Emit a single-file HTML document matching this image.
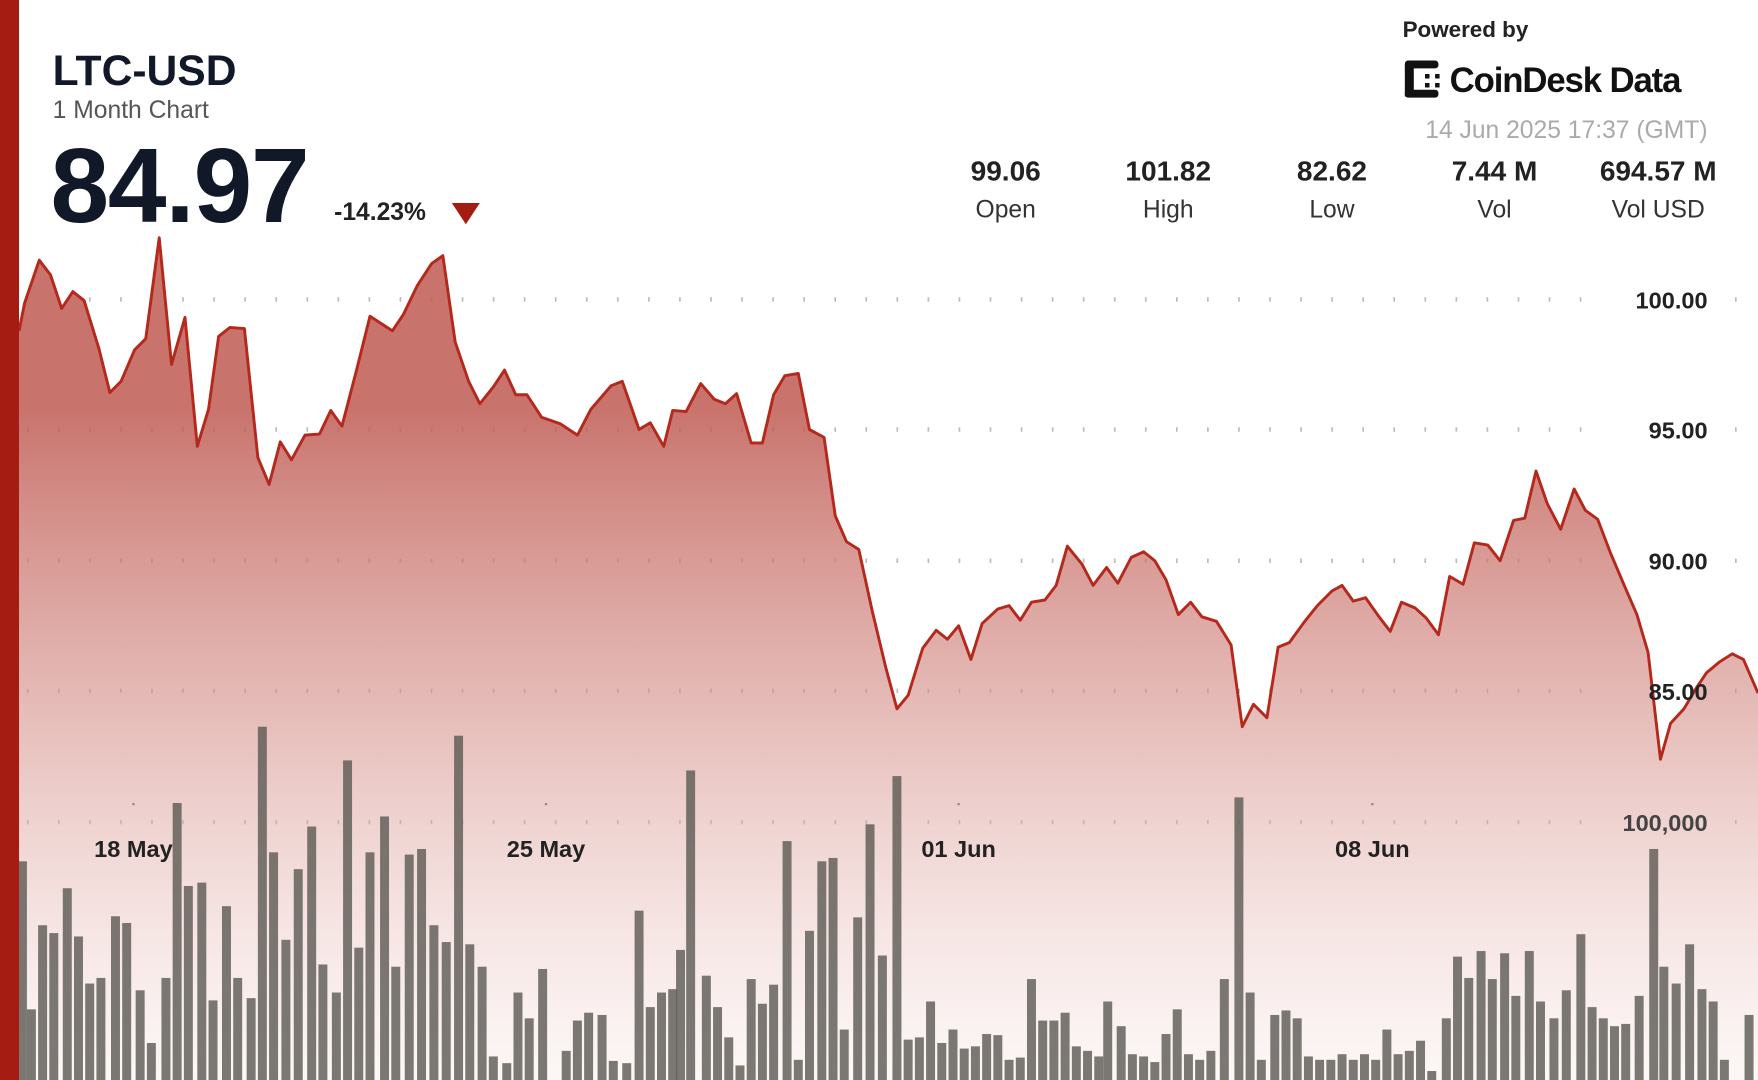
<!DOCTYPE html>
<html><head><meta charset="utf-8">
<style>
html,body{margin:0;padding:0;background:#fff;}
svg{display:block;}
text{font-family:"Liberation Sans",sans-serif;}
</style></head>
<body>
<svg id="s" width="1758" height="1080" viewBox="0 0 1568 963" preserveAspectRatio="none" xmlns="http://www.w3.org/2000/svg">
<defs>
<linearGradient id="g" x1="0" y1="0" x2="0" y2="1">
<stop offset="0.2" stop-color="#bf5a52" stop-opacity="0.85"/>
<stop offset="0.6" stop-color="#d99a94" stop-opacity="0.6"/>
<stop offset="1" stop-color="#f6e4e2" stop-opacity="0.3"/>
</linearGradient>
</defs>
<rect x="0" y="0" width="1568" height="963" fill="#fff"/>
<g id="grid"></g>
<path id="area" fill="url(#g)"/>
<g id="bars"></g>
<polyline id="line" fill="none" stroke="#b5281c" stroke-width="2.6" stroke-linejoin="round"/>
<rect x="0" y="0" width="17" height="963" fill="#a51c12"/>
<text x="47" y="76" font-size="38" font-weight="bold" fill="#111827">LTC-USD</text>
<text x="47" y="105" font-size="22" fill="#555">1 Month Chart</text>
<text x="45" y="198" font-size="94" font-weight="bold" fill="#111827" letter-spacing="-1">84.97</text>
<text x="298" y="196" font-size="22" font-weight="bold" fill="#222">-14.23%</text>
<polygon points="403,181 428,181 415.5,200" fill="#a51c12"/>
<g font-size="25" font-weight="bold" fill="#222" text-anchor="middle">
<text x="897" y="161">99.06</text><text x="1042" y="161">101.82</text><text x="1188" y="161">82.62</text><text x="1333" y="161">7.44 M</text><text x="1479" y="161">694.57 M</text>
</g>
<g font-size="22" fill="#333" text-anchor="middle">
<text x="897" y="194">Open</text><text x="1042" y="194">High</text><text x="1188" y="194">Low</text><text x="1333" y="194">Vol</text><text x="1479" y="194">Vol USD</text>
</g>
<text x="1251" y="33" font-size="20" font-weight="bold" fill="#222">Powered by</text>
<g fill="#111">
<rect x="1253" y="58" width="8" height="28"/><rect x="1253" y="54" width="30" height="7" rx="3"/><rect x="1253" y="80" width="30" height="7" rx="3"/>
<rect x="1271" y="66" width="4" height="4"/><rect x="1271" y="74" width="4" height="4"/><rect x="1280" y="66" width="4" height="4"/><rect x="1280" y="74" width="4" height="4"/>
</g>
<text x="1293" y="82" font-size="31" font-weight="bold" fill="#111" letter-spacing="-1">CoinDesk Data</text>
<text x="1523" y="123" font-size="22" fill="#aaa" text-anchor="end">14 Jun 2025 17:37 (GMT)</text>
<g font-size="21" font-weight="bold" fill="#222" text-anchor="end">
<text x="1523" y="275">100.00</text><text x="1523" y="391">95.00</text><text x="1523" y="508">90.00</text><text x="1523" y="624">85.00</text><text x="1523" y="741" fill="#444">100,000</text>
</g>
<g font-size="21" font-weight="bold" fill="#222" text-anchor="middle">
<text x="119" y="764">18 May</text><text x="487" y="764">25 May</text><text x="855" y="764">01 Jun</text><text x="1224" y="764">08 Jun</text>
</g>
</svg>
<script>
var ns="http://www.w3.org/2000/svg";
var pts=[[17,295],[22,270],[35,232],[45,245],[55,275],[65,260],[75,268],[88,310],[98,350],[108,340],[120,312],[130,302],[142,212],[153,325],[165,283],[176,398],[186,365],[195,300],[205,292],[218,293],[230,408],[240,432],[250,394],[260,410],[272,388],[285,387],[295,366],[305,380],[318,330],[330,282],[350,295],[360,280],[372,255],[385,235],[395,228],[406,305],[418,340],[428,360],[440,345],[450,330],[460,352],[470,352],[483,372],[500,378],[515,388],[527,365],[545,344],[555,340],[570,383],[580,377],[592,398],[600,366],[612,367],[625,342],[637,356],[647,360],[657,351],[670,395],[680,395],[690,352],[700,335],[712,333],[722,383],[735,390],[745,460],[755,483],[766,490],[778,545],[790,595],[800,632],[810,620],[823,578],[835,562],[845,570],[855,558],[866,588],[876,556],[890,543],[900,540],[910,553],[920,537],[932,535],[942,522],[952,487],[965,503],[975,522],[987,506],[997,520],[1009,497],[1020,492],[1030,500],[1040,517],[1051,548],[1062,537],[1072,550],[1085,554],[1098,575],[1108,648],[1118,628],[1130,640],[1140,577],[1150,573],[1163,555],[1175,540],[1188,527],[1197,522],[1207,536],[1218,533],[1230,550],[1240,563],[1250,537],[1262,542],[1272,551],[1283,566],[1293,514],[1305,521],[1315,484],[1327,486],[1338,500],[1350,464],[1360,462],[1370,420],[1380,449],[1392,472],[1404,436],[1414,455],[1425,463],[1436,492],[1450,525],[1460,548],[1470,582],[1481,677],[1490,645],[1502,632],[1512,615],[1522,600],[1534,590],[1545,583],[1555,588],[1568,618]];
var s=pts.map(function(p){return p.join(",")}).join(" ");
document.getElementById("line").setAttribute("points",s);
document.getElementById("area").setAttribute("d","M17,963 L"+pts.map(function(p){return p.join(",")}).join(" L")+" L1568,963 Z");
var bars=[[20,768],[28,900],[38,825],[48,832],[60,792],[70,835],[80,877],[90,872],[103,817],[113,823],[125,883],[135,930],[148,872],[158,716],[168,790],[180,787],[190,892],[202,808],[212,872],[224,890],[234,648],[244,760],[255,838],[266,775],[278,737],[288,860],[300,885],[310,678],[320,845],[330,760],[343,728],[353,862],[365,762],[376,757],[387,825],[398,840],[409,656],[419,842],[430,862],[440,942],[452,948],[462,885],[472,908],[484,864],[505,937],[515,910],[525,903],[537,905],[547,946],[559,948],[570,812],[580,898],[590,885],[600,882],[607,847],[616,687],[630,870],[640,898],[650,925],[660,950],[670,873],[680,895],[690,878],[702,750],[712,945],[722,830],[733,768],[743,765],[753,918],[765,818],[776,735],[787,852],[800,692],[810,927],[820,925],[830,893],[840,930],[850,918],[860,935],[870,933],[880,922],[890,923],[900,945],[910,943],[920,873],[930,910],[940,910],[950,903],[960,933],[970,937],[980,942],[988,893],[1000,915],[1010,940],[1020,942],[1030,947],[1040,922],[1050,900],[1060,940],[1070,945],[1080,937],[1092,873],[1105,711],[1115,885],[1125,945],[1137,905],[1147,901],[1157,908],[1167,942],[1177,945],[1187,945],[1197,940],[1207,945],[1217,940],[1227,945],[1237,918],[1247,940],[1257,937],[1267,928],[1277,955],[1290,908],[1300,853],[1310,872],[1321,848],[1331,873],[1342,850],[1352,888],[1364,848],[1374,893],[1386,908],[1397,883],[1410,833],[1420,898],[1430,908],[1440,915],[1450,913],[1462,888],[1475,757],[1484,862],[1495,877],[1507,842],[1518,882],[1528,893],[1538,945],[1560,905]];
var bg=document.getElementById("bars");
bars.forEach(function(b){var r=document.createElementNS(ns,"rect");r.setAttribute("x",b[0]-4);r.setAttribute("y",b[1]);r.setAttribute("width",8);r.setAttribute("height",963-b[1]);r.setAttribute("fill","#5e5c55");r.setAttribute("fill-opacity","0.82");bg.appendChild(r);});
var gg=document.getElementById("grid");
[267,383,500,616,733].forEach(function(y){for(var x=24;x<1568;x+=27.7){if(x>1430&&x<1530)continue;var r=document.createElementNS(ns,"rect");r.setAttribute("x",x);r.setAttribute("y",y-2);r.setAttribute("width",1.5);r.setAttribute("height",4);r.setAttribute("fill","#bbb");gg.appendChild(r);}});
[119,487,855,1224].forEach(function(x){var r=document.createElementNS(ns,"rect");r.setAttribute("x",x-1);r.setAttribute("y",716);r.setAttribute("width",2);r.setAttribute("height",2);r.setAttribute("fill","#555");gg.appendChild(r);});
</script>
</body></html>
